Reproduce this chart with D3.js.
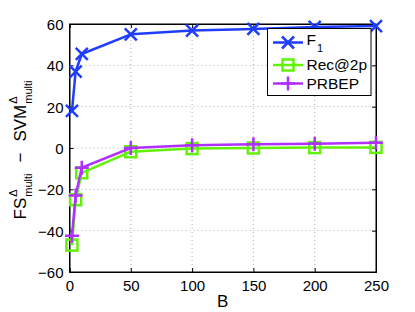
<!DOCTYPE html>
<html><head><meta charset="utf-8">
<script src="https://cdn.jsdelivr.net/npm/d3@7"></script>
<style>body{margin:0;background:#fff}svg{display:block;font-family:"Liberation Sans",Arial,sans-serif}</style>
</head><body>
<svg id="c" width="415" height="312"></svg>
<script>
const B = [2, 5, 10, 50, 100, 150, 200, 250];
const f1 = [18, 37, 45.5, 55, 56.8, 57.6, 58.6, 59];
const rec2p = [-47, -25, -12, -1.8, -0.3, 0, 0.2, 0.3];
const prbep = [-42.5, -23, -9.5, 0, 1.3, 1.8, 2, 2.5];
const xTicks = [0, 50, 100, 150, 200, 250];
const yTicks = [-60, -40, -20, 0, 20, 40, 60];

const svg = d3.select("#c");
const L = 69.5, R = 376, T = 24, Bt = 272;
const x = d3.scaleLinear().domain([0, 250]).range([L, R]);
const y = d3.scaleLinear().domain([-60, 60]).range([Bt, T]);

// grid
const g = svg.append("g");
g.selectAll(".gx").data(xTicks.slice(1, -1)).join("line")
  .attr("x1", d => x(d)).attr("x2", d => x(d)).attr("y1", T).attr("y2", Bt)
  .attr("stroke", "#b0b0b0").attr("stroke-width", 1).attr("stroke-dasharray", "1,3");
g.selectAll(".gy").data(yTicks.slice(1, -1)).join("line")
  .attr("y1", d => y(d)).attr("y2", d => y(d)).attr("x1", L).attr("x2", R)
  .attr("stroke", "#b0b0b0").attr("stroke-width", 1).attr("stroke-dasharray", "1,3");

// axes
const ax = d3.axisBottom(x).tickValues(xTicks).tickSize(-4).tickPadding(8);
svg.append("g").attr("transform", `translate(0,${Bt})`).call(ax);
const ay = d3.axisLeft(y).tickValues(yTicks).tickSize(-4).tickPadding(6);
const ayT = svg.append("g").attr("transform", `translate(${L},0)`).call(ay);
svg.append("g").attr("transform", `translate(0,${T})`).call(d3.axisTop(x).tickValues(xTicks).tickSize(-4).tickFormat(""));
svg.append("g").attr("transform", `translate(${R},0)`).call(d3.axisRight(y).tickValues(yTicks).tickSize(-4).tickFormat(""));
svg.selectAll(".domain").attr("stroke", "#000");
svg.selectAll(".tick line").attr("stroke", "#000");
svg.selectAll(".tick text").attr("font-size", 15).attr("fill", "#000")
  .attr("font-family", "Liberation Sans, Arial, sans-serif");
ayT.selectAll(".tick text").attr("dy", "0.36em");
svg.append("rect").attr("x", L).attr("y", T).attr("width", R - L).attr("height", Bt - T)
  .attr("fill", "none").attr("stroke", "#000").attr("stroke-width", 1);

// markers
function marker(sel, type, color) {
  if (type === "x") {
    sel.append("path").attr("d", "M-6,-6L6,6M-6,6L6,-6").attr("stroke", color).attr("stroke-width", 2.5).attr("fill", "none");
  } else if (type === "sq") {
    sel.append("rect").attr("x", -5.5).attr("y", -5.5).attr("width", 11).attr("height", 11)
      .attr("stroke", color).attr("stroke-width", 2.5).attr("fill", "none");
  } else {
    sel.append("path").attr("d", "M-7,0L7,0M0,-7L0,7").attr("stroke", color).attr("stroke-width", 2.5).attr("fill", "none");
  }
}
const series = [
  {name: "F1", vals: f1, color: "#1f3dff", m: "x"},
  {name: "Rec@2p", vals: rec2p, color: "#62f20a", m: "sq"},
  {name: "PRBEP", vals: prbep, color: "#b030ff", m: "plus"}
];
const line = d3.line().x((d, i) => x(B[i])).y(d => y(d));
const plot = svg.append("g");
[series[1], series[2], series[0]].forEach(s => {
  plot.append("path").attr("d", line(s.vals)).attr("fill", "none")
    .attr("stroke", s.color).attr("stroke-width", 2.5).attr("stroke-linejoin", "round");
  s.vals.forEach((v, i) => {
    const mg = plot.append("g").attr("transform", `translate(${x(B[i])},${y(v)})`);
    marker(mg, s.m, s.color);
  });
});

// legend
const lg = svg.append("g");
lg.append("rect").attr("x", 267.5).attr("y", 28.5).attr("width", 103.5).attr("height", 67)
  .attr("fill", "#fff").attr("stroke", "#000").attr("stroke-width", 1);
const ly = [42.5, 65, 83.5];
series.forEach((s, i) => {
  lg.append("line").attr("x1", 273).attr("x2", 303).attr("y1", ly[i]).attr("y2", ly[i])
    .attr("stroke", s.color).attr("stroke-width", 2.5);
  const mg = lg.append("g").attr("transform", `translate(288,${ly[i]})`);
  marker(mg, s.m, s.color);
  const t = lg.append("text").attr("x", 306.5).attr("y", ly[i] + 5.2).attr("font-size", 15.5).attr("fill", "#000");
  if (s.name === "F1") {
    t.attr("y", 45);
    t.append("tspan").text("F");
    t.append("tspan").attr("dy", 7).attr("dx", 1).attr("font-size", 11).text("1");
  } else t.text(s.name);
});

// x label
svg.append("text").attr("x", x(125)).attr("y", 307).attr("text-anchor", "middle")
  .attr("font-size", 17).attr("fill", "#000").text("B");

// y label
const yl = svg.append("g").attr("transform", "translate(26,150) rotate(-90)");
const pieces = [];
let cx = 0;
function piece(txt, size, dy) {
  const t = yl.append("text").attr("x", cx).attr("y", dy).attr("font-size", size).attr("fill", "#000").text(txt);
  const w = t.node().getComputedTextLength();
  pieces.push(t);
  return w;
}
cx += piece("FS", 17, 0) + 1;
let w1 = piece("multi", 11, 6);
let w2 = piece("\u0394", 11, -9);
cx += Math.max(w1, w2) + 11;
cx += piece("\u2212", 17, 0) + 11;
cx += piece("SVM", 17, 0) + 1;
w1 = piece("multi", 11, 6);
w2 = piece("\u0394", 11, -9);
cx += Math.max(w1, w2);
pieces.forEach(p => p.attr("x", +p.attr("x") - cx / 2));
</script>
</body></html>
